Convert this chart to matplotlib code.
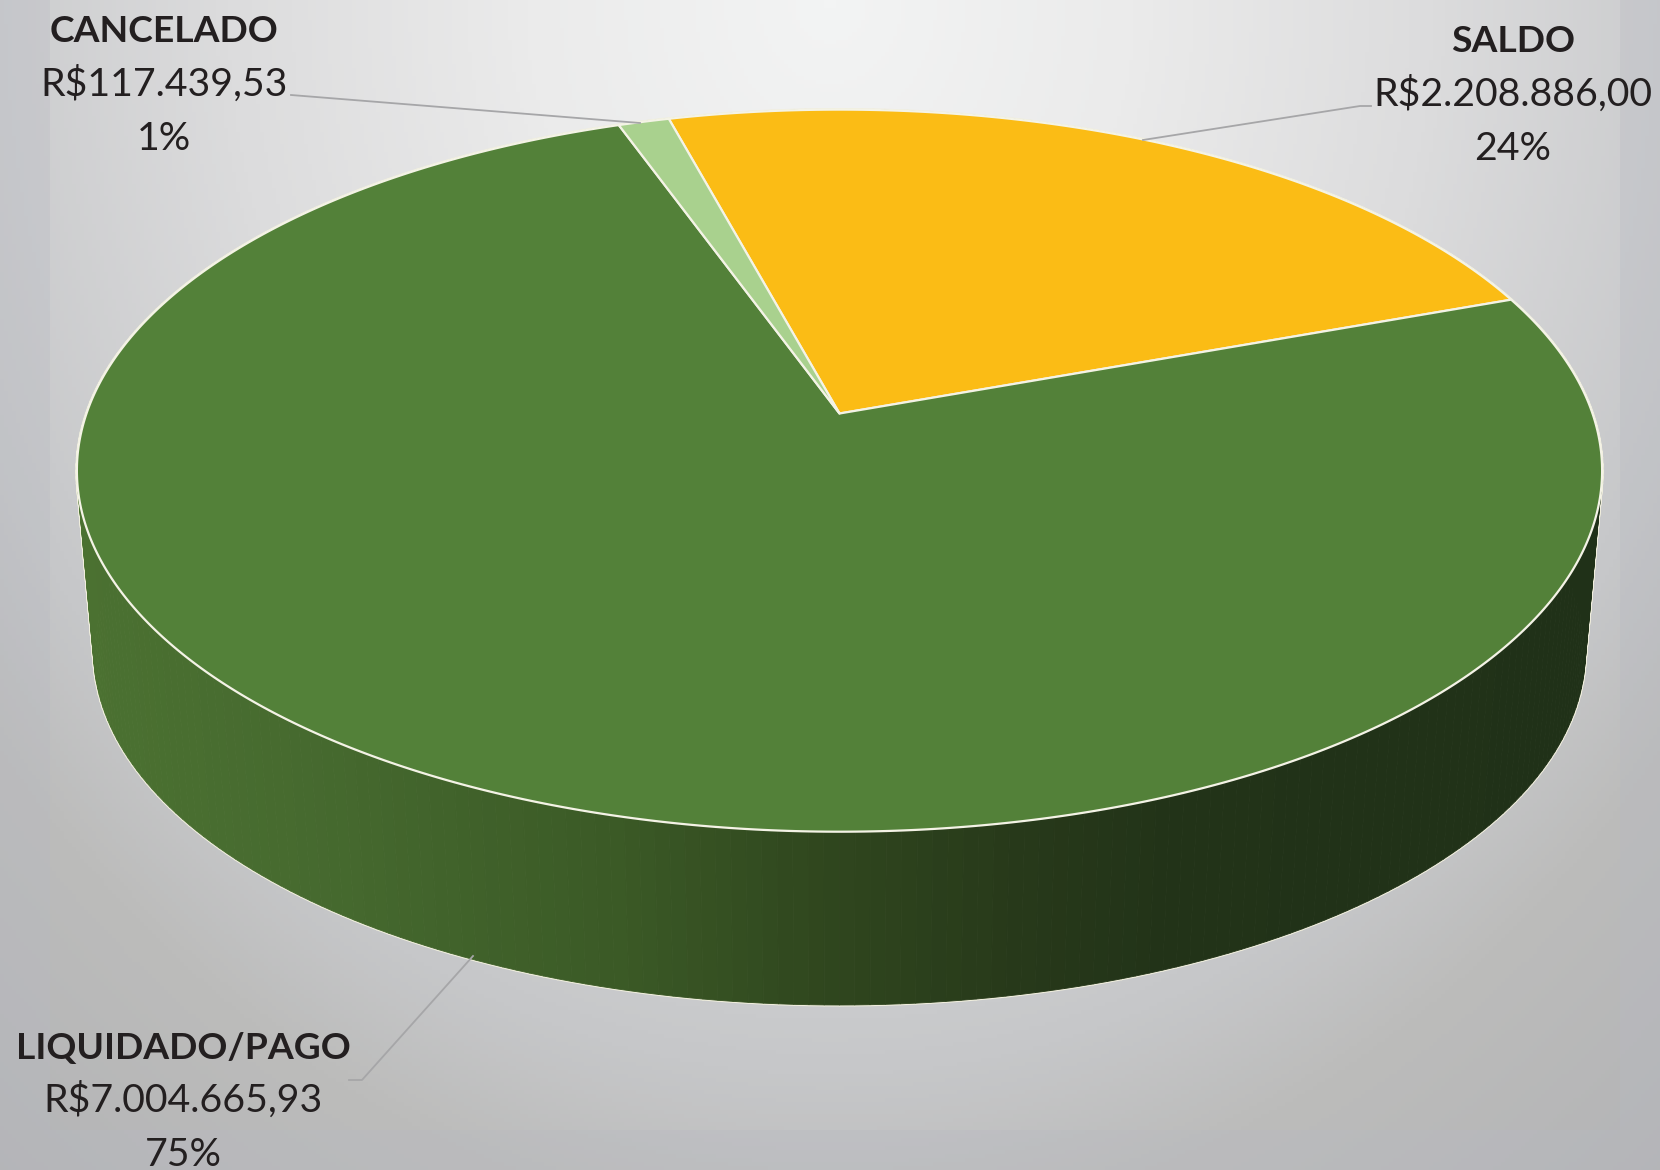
import numpy as np
import matplotlib
matplotlib.use("Agg")
import matplotlib.pyplot as plt
from matplotlib.collections import PolyCollection
from matplotlib.colors import LinearSegmentedColormap

plt.rcParams['font.family'] = ['Lato', 'DejaVu Sans']

categories = ["SALDO", "LIQUIDADO/PAGO", "CANCELADO"]
value_labels = ["R$2.208.886,00", "R$7.004.665,93", "R$117.439,53"]
pct_labels = ["24%", "75%", "1%"]
values = [2208886.00, 7004665.93, 117439.53]
colors = ["#fbbc15", "#538139", "#a9d18e"]

START_ANGLE = 105.15
W, H = 1660, 1170
K = 0.1583  # perspective of the tilted disc


def rim(theta, r=1.0, scale=1.0, apex_y=413.5):
    # circle point -> picture, with the centre of the pie drawn off the ellipse centre
    u = r * np.cos(theta)
    v = r * np.sin(theta)
    w = 1 + K * v
    return 839.5 + scale * 753.0 * u / w, apex_y - scale * 352.0 * v / w


fig = plt.figure(figsize=(W / 100, H / 100), dpi=100)
ax = fig.add_axes([0, 0, 1, 1])
ax.set_xlim(0, W)
ax.set_ylim(H, 0)
ax.axis("off")

# background
bg = LinearSegmentedColormap.from_list("bg", [
    (0.0, "#f3f4f4"), (0.3 / 1.5, "#ebebeb"), (0.6 / 1.5, "#dcdcdd"),
    (0.92 / 1.5, "#c6c7c9"), (1.05 / 1.5, "#bcbcbb"), (1.0, "#adaeb2")])
xx, yy = np.meshgrid(np.linspace(0, W, 415), np.linspace(0, H, 293))
dist = np.sqrt(((xx - 830) / 1000) ** 2 + (yy / 1170) ** 2)
ax.imshow(dist, cmap=bg, vmin=0, vmax=1.5, extent=(0, W, H, 0), aspect="auto", zorder=0)
for x0, y0, x1, y1 in [(0, 0, 50, H), (1620, 0, W, H), (50, 1130, 1620, H)]:
    ax.fill([x0, x1, x1, x0], [y0, y0, y1, y1], color="#b8bac2", alpha=0.3, lw=0, zorder=1)

# side wall
side_cmap = LinearSegmentedColormap.from_list("side", [
    (0.0, "#4b7131"), (0.15, "#466a2f"), (0.35, "#3b5a26"), (0.47, "#31491f"),
    (0.62, "#27391a"), (0.72, "#223318"), (1.0, "#203118")])
angles = np.radians(np.linspace(0, 360, 361))
tx, ty = rim(angles)
bx, by = rim(angles, scale=0.978, apex_y=596.0)
strips = []
strip_colors = []
for i in range(len(angles) - 1):
    strips.append([(tx[i], ty[i]), (tx[i + 1], ty[i + 1]), (bx[i + 1], by[i + 1]), (bx[i], by[i])])
    strip_colors.append(side_cmap((tx[i] + tx[i + 1] - 2 * 76) / (2 * 1525)))
ax.add_collection(PolyCollection(strips, facecolors="#f0eedd", edgecolors="#f0eedd", linewidths=2.2, zorder=2))
ax.add_collection(PolyCollection(strips, facecolors=strip_colors, edgecolors=strip_colors, linewidths=0.6, zorder=3))

# top face, clockwise from the start angle
fractions = np.array(values) / sum(values)
a = START_ANGLE
apex = rim(0.0, r=0.0)
for frac, color in zip(fractions, colors):
    b = a - frac * 360
    th = np.radians(np.linspace(a, b, max(int(frac * 720), 8)))
    px, py = rim(th)
    ax.fill(np.r_[apex[0], px], np.r_[apex[1], py], facecolor=color, edgecolor="#f4f3e6",
            linewidth=1.6, joinstyle="round", zorder=4)
    a = b

# leader lines
leader_lines = [
    ([1371, 1360, 1143], [106, 106, 140]),
    ([291, 640], [95, 123]),
    ([349, 362, 473], [1080, 1080, 956]),
]
for lx, ly in leader_lines:
    ax.plot(lx, ly, color="#a6a6a8", lw=1.3, zorder=5)

# labels
label_x = [1513, 183, 164]
label_y = [42, 1048, 32]
for cat, val, pct, x, y in zip(categories, value_labels, pct_labels, label_x, label_y):
    ax.text(x, y, cat, ha="center", va="center", fontsize=26.8, fontweight="bold", color="#231f20", zorder=6)
    ax.text(x, y + 52, val, ha="center", va="center", fontsize=28.3, color="#231f20", zorder=6)
    ax.text(x, y + 107, pct, ha="center", va="center", fontsize=28.3, color="#231f20", zorder=6)

fig.savefig("out.png", dpi=100)
